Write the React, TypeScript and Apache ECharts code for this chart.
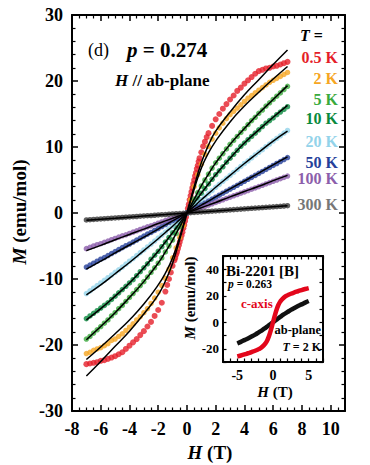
import React, { useEffect, useRef } from 'react';
import * as echarts from 'echarts';

// ---------- data ----------
const H_DATA = [-7, -6.75, -6.5, -6.25, -6, -5.75, -5.5, -5.25, -5, -4.75, -4.5, -4.25, -4, -3.75, -3.5, -3.25, -3, -2.75, -2.5, -2.25, -2, -1.75, -1.5, -1.25, -1, -0.75, -0.5, -0.25, 0,
  0.25, 0.5, 0.75, 1, 1.25, 1.5, 1.75, 2, 2.25, 2.5, 2.75, 3, 3.25, 3.5, 3.75, 4, 4.25, 4.5, 4.75, 5, 5.25, 5.5, 5.75, 6, 6.25, 6.5, 6.75, 7];

const M_05K = [-22.9, -22.8, -22.7, -22.6, -22.4, -22.3, -22.1, -21.9, -21.7, -21.4, -21.1, -20.6, -20.1, -19.6, -19.1, -18.5, -17.9, -17.2, -16.5, -15.6, -14.7, -13.6, -11.9, -10.0, -8.0, -6.3, -4.4, -2.3, 0,
  2.6, 5.0, 7.2, 9.2, 10.8, 12.1, 13.2, 14.2, 15.0, 15.8, 16.5, 17.2, 17.8, 18.5, 19.0, 19.6, 20.1, 20.6, 21.1, 21.5, 21.7, 21.9, 22.0, 22.2, 22.3, 22.5, 22.7, 22.9];
const RED_LOW_H = [-1.375, -1.125, -0.875, -0.8125, -0.6875, -0.625, -0.5625, -0.4375, -0.375, -0.3125, -0.1875, -0.125, -0.0625, 0.0625, 0.125, 0.1875, 0.3125, 0.375, 0.4375, 0.5625, 0.625, 0.6875, 0.8125, 0.875, 1.125, 1.375];
const RED_LOW_M = [-10.9, -9.0, -7.2, -6.8, -5.9, -5.4, -4.9, -3.9, -3.4, -2.9, -1.8, -1.2, -0.6, 0.7, 1.3, 2.0, 3.2, 3.8, 4.4, 5.6, 6.1, 6.7, 7.8, 8.3, 10.1, 11.5];

const M_2K = [-21.3, -21.1, -20.8, -20.6, -20.4, -20.1, -19.8, -19.3, -19.1, -18.7, -18.3, -17.8, -17.3, -16.8, -16.2, -15.7, -15.1, -14.5, -13.7, -12.9, -12.0, -11.0, -9.9, -8.5, -6.8, -5.3, -3.7, -1.9, 0,
  2.0, 4.0, 5.8, 7.4, 8.9, 10.1, 11.2, 12.1, 12.9, 13.6, 14.3, 14.9, 15.4, 15.9, 16.4, 16.9, 17.4, 17.8, 18.2, 18.6, 19.0, 19.4, 19.8, 20.1, 20.4, 20.7, 21.0, 21.3];

const M_5K = [-19.1, -18.7, -18.2, -17.7, -17.2, -16.7, -16.2, -15.6, -15.1, -14.5, -14.0, -13.4, -12.8, -12.2, -11.6, -11.0, -10.4, -9.7, -9.0, -8.3, -7.6, -6.8, -5.9, -5.0, -4.1, -3.1, -2.1, -1.0, 0,
  1.0, 2.1, 3.1, 4.1, 5.0, 5.9, 6.8, 7.6, 8.3, 9.0, 9.7, 10.4, 11.0, 11.6, 12.2, 12.8, 13.4, 14.0, 14.5, 15.1, 15.6, 16.2, 16.7, 17.2, 17.7, 18.2, 18.7, 19.2];

const M_10K = [-16.0, -15.6, -15.2, -14.8, -14.4, -14.0, -13.6, -13.1, -12.6, -12.1, -11.6, -11.1, -10.6, -10.1, -9.5, -8.9, -8.3, -7.7, -7.0, -6.4, -5.8, -5.1, -4.4, -3.7, -3.0, -2.25, -1.5, -0.75, 0,
  0.75, 1.5, 2.25, 3.0, 3.7, 4.4, 5.1, 5.8, 6.4, 7.0, 7.7, 8.3, 8.9, 9.5, 10.1, 10.6, 11.1, 11.6, 12.1, 12.6, 13.1, 13.6, 14.0, 14.4, 14.9, 15.3, 15.7, 16.1];

const M_20K = [-12.2, -11.8, -11.4, -11.0, -10.6, -10.2, -9.8, -9.4, -9.0, -8.6, -8.2, -7.75, -7.3, -6.9, -6.45, -6.0, -5.6, -5.15, -4.7, -4.25, -3.8, -3.35, -2.9, -2.4, -1.95, -1.45, -1.0, -0.5, 0,
  0.5, 1.0, 1.5, 2.0, 2.45, 2.95, 3.4, 3.9, 4.35, 4.8, 5.25, 5.7, 6.15, 6.6, 7.05, 7.5, 7.9, 8.35, 8.8, 9.2, 9.6, 10.05, 10.45, 10.9, 11.3, 11.7, 12.1, 12.5];

const M_50K = [-8.2, -7.9, -7.6, -7.3, -7.0, -6.75, -6.45, -6.15, -5.85, -5.55, -5.25, -4.95, -4.7, -4.4, -4.1, -3.8, -3.5, -3.2, -2.95, -2.65, -2.35, -2.05, -1.75, -1.45, -1.15, -0.9, -0.6, -0.3, 0,
  0.3, 0.6, 0.9, 1.2, 1.5, 1.8, 2.1, 2.4, 2.7, 3.0, 3.3, 3.6, 3.9, 4.2, 4.5, 4.8, 5.1, 5.4, 5.7, 6.0, 6.3, 6.6, 6.9, 7.2, 7.5, 7.8, 8.1, 8.4];

const M_100K = [-5.4, -5.2, -5.0, -4.8, -4.65, -4.45, -4.25, -4.05, -3.85, -3.65, -3.45, -3.3, -3.1, -2.9, -2.7, -2.5, -2.3, -2.1, -1.95, -1.75, -1.55, -1.35, -1.15, -0.95, -0.8, -0.6, -0.4, -0.2, 0,
  0.2, 0.4, 0.6, 0.8, 1.0, 1.2, 1.4, 1.6, 1.8, 2.0, 2.2, 2.4, 2.6, 2.8, 3.0, 3.2, 3.4, 3.6, 3.8, 4.0, 4.2, 4.4, 4.6, 4.8, 5.0, 5.2, 5.4, 5.6];

const M_300K = [-1.05, -1.01, -0.98, -0.94, -0.9, -0.86, -0.83, -0.79, -0.75, -0.71, -0.68, -0.64, -0.6, -0.56, -0.53, -0.49, -0.45, -0.41, -0.38, -0.34, -0.3, -0.26, -0.23, -0.19, -0.15, -0.11, -0.08, -0.04, 0,
  0.04, 0.08, 0.12, 0.16, 0.2, 0.24, 0.27, 0.31, 0.35, 0.39, 0.43, 0.47, 0.51, 0.55, 0.59, 0.63, 0.67, 0.71, 0.75, 0.79, 0.82, 0.86, 0.9, 0.94, 0.98, 1.02, 1.06, 1.1];

const H_FIT = [-7, -6, -5, -4, -3, -2, -1.5, -1, -0.5, 0, 0.5, 1, 1.5, 2, 3, 4, 5, 6, 7];
const FIT_05K = [-24.7, -22.5, -20.2, -17.9, -15.3, -12.4, -10.3, -7.6, -4.0, 0, 4.0, 7.6, 10.3, 12.4, 15.3, 17.9, 20.2, 22.5, 24.7];
const FIT_2K = [-22.2, -20.3, -18.3, -16.2, -13.8, -10.9, -9.1, -6.8, -3.6, 0, 3.6, 6.8, 9.1, 10.9, 13.8, 16.2, 18.3, 20.3, 22.2];
const FIT_5K = [-19.2, -17.2, -15.1, -12.8, -10.4, -7.6, -5.9, -4.1, -2.1, 0, 2.1, 4.1, 5.9, 7.6, 10.4, 12.8, 15.1, 17.2, 19.3];
const FIT_10K = [-16.2, -14.5, -12.6, -10.6, -8.3, -5.8, -4.4, -3.0, -1.5, 0, 1.5, 3.0, 4.4, 5.8, 8.3, 10.6, 12.6, 14.5, 16.3];
const FIT_20K = [-12.4, -10.9, -9.2, -7.5, -5.7, -3.9, -2.95, -2.0, -1.0, 0, 1.0, 2.0, 2.95, 3.9, 5.7, 7.5, 9.2, 10.9, 12.4];
const FIT_50K = [-8.5, -7.3, -6.05, -4.85, -3.65, -2.45, -1.8, -1.2, -0.6, 0, 0.6, 1.2, 1.8, 2.45, 3.65, 4.85, 6.05, 7.3, 8.5];
const FIT_100K = [-5.7, -4.9, -4.05, -3.25, -2.45, -1.6, -1.2, -0.8, -0.4, 0, 0.4, 0.8, 1.2, 1.6, 2.45, 3.25, 4.05, 4.9, 5.7];
const FIT_300K = [-1.1, -0.95, -0.8, -0.63, -0.47, -0.31, -0.24, -0.16, -0.08, 0, 0.08, 0.16, 0.24, 0.31, 0.47, 0.63, 0.8, 0.95, 1.1];

const TEMP_LABELS = ['0.5 K', '2 K', '5 K', '10 K', '20 K', '50 K', '100 K', '300 K'];

const INSET_H = [-5, -4.5, -4, -3.5, -3, -2.5, -2, -1.5, -1, -0.75, -0.5, -0.25, 0, 0.25, 0.5, 0.75, 1, 1.5, 2, 2.5, 3, 3.5, 4, 4.5, 5];
const INSET_C_AXIS = [-25.8, -25.1, -24.3, -23.4, -22.5, -21.5, -20.3, -18.5, -15.5, -13, -9.5, -5, 0, 5, 9.5, 13, 15.5, 18.5, 20.3, 21.5, 22.5, 23.4, 24.3, 25.1, 25.8];
const INSET_AB_PLANE = [-16, -14.8, -13.5, -12.2, -10.8, -9.3, -7.6, -5.9, -4.0, -3.0, -2.0, -1.0, 0, 1.0, 2.0, 3.0, 4.0, 5.9, 7.6, 9.3, 10.8, 12.2, 13.5, 14.8, 16];

// ---------- styles ----------
const FONT = '"Liberation Serif", "Times New Roman", serif';
const COLORS = ['#e51e29', '#f6a623', '#3aaa3c', '#0a8a3e', '#93d3ea', '#25409a', '#8c5eab', '#3a3a3a'];
const LABEL_COLORS = ['#e51e29', '#f6a623', '#3aaa3c', '#0a8a3e', '#93d3ea', '#25409a', '#8c5eab', '#777777'];

const zip = (xs: number[], ys: number[]) => xs.map((x, i) => [x, ys[i]]);

function axis(extra: any) {
  return {
    type: 'value',
    axisLine: { show: true, onZero: false, lineStyle: { color: '#000', width: 2 } },
    axisTick: { show: true, inside: true, length: 6, lineStyle: { color: '#000', width: 1.5 } },
    minorTick: { show: true, splitNumber: 4, length: 3.5, lineStyle: { color: '#000', width: 1.2 } },
    splitLine: { show: false },
    minorSplitLine: { show: false },
    ...extra,
  };
}

function txt(x: number, y: number, text: string, size: number, opts: any = {}) {
  const weight = opts.weight || 'bold';
  const color = opts.color || '#000';
  const align = opts.align || 'left';
  return {
    type: 'text',
    x,
    y,
    rotation: opts.rotation || 0,
    z: 100,
    style: {
      text,
      x: 0,
      y: 0,
      fill: color,
      fontSize: size,
      fontWeight: weight,
      fontFamily: FONT,
      align,
      verticalAlign: 'middle',
      textAlign: align,
      textVerticalAlign: 'middle',
      rich: {
        i: { fontSize: size, fontWeight: weight, fontFamily: FONT, fontStyle: 'italic', fill: color, color },
        n: { fontSize: size, fontWeight: weight, fontFamily: FONT, fill: color, color },
      },
    },
  };
}

export default function App() {
  const ref = useRef<HTMLDivElement>(null);
  useEffect(() => {
    if (!ref.current) return;
    const chart = echarts.init(ref.current, null, { renderer: 'svg' });
    const mainLabel = { show: true, fontSize: 18, fontWeight: 'bold', fontFamily: FONT, color: '#000' };
    const insetLabel = { show: true, fontSize: 14, fontWeight: 'bold', fontFamily: FONT, color: '#000' };

    const dataSets = [M_05K, M_2K, M_5K, M_10K, M_20K, M_50K, M_100K, M_300K];
    const fitSets = [FIT_05K, FIT_2K, FIT_5K, FIT_10K, FIT_20K, FIT_50K, FIT_100K, FIT_300K];

    const scatterSeries = dataSets.map((m, i) => ({
      type: 'scatter',
      name: TEMP_LABELS[i],
      xAxisIndex: 0,
      yAxisIndex: 0,
      symbol: 'circle',
      symbolSize: i === 0 ? 6 : 5.5,
      silent: true,
      itemStyle: { color: COLORS[i] },
      z: 2,
      data: i === 0 ? zip(H_DATA, m).concat(zip(RED_LOW_H, RED_LOW_M)) : zip(H_DATA, m),
    }));
    const fitSeries = fitSets.map((m) => ({
      type: 'line',
      xAxisIndex: 0,
      yAxisIndex: 0,
      smooth: true,
      symbol: 'none',
      silent: true,
      lineStyle: { color: '#000', width: 1.5 },
      z: 3,
      data: zip(H_FIT, m),
    }));

    const insetTick = { show: true, inside: true, length: 3.5, lineStyle: { color: '#000', width: 1.2 } };

    const option: any = {
      animation: false,
      grid: [
        { left: 72, top: 15, width: 273, height: 396, show: false },
        { left: 223, top: 256, width: 100, height: 106, show: true, backgroundColor: '#fff', borderWidth: 0, z: 5 },
      ],
      xAxis: [
        axis({
          gridIndex: 0, position: 'bottom', min: -8, max: 11, interval: 2,
          axisLabel: { ...mainLabel, margin: 9, formatter: (v: number) => (v % 2 === 0 && v <= 10 ? String(v) : '') },
        }),
        axis({ gridIndex: 0, position: 'top', min: -8, max: 11, interval: 2, axisLabel: { show: false } }),
        axis({
          gridIndex: 1, position: 'bottom', min: -7, max: 7, interval: 1, z: 6,
          axisTick: insetTick, minorTick: { show: false },
          axisLabel: { ...insetLabel, margin: 6, formatter: (v: number) => (v % 5 === 0 ? String(v) : '') },
        }),
        axis({
          gridIndex: 1, position: 'top', min: -7, max: 7, interval: 1, z: 6,
          axisTick: insetTick, minorTick: { show: false }, axisLabel: { show: false },
        }),
      ],
      yAxis: [
        axis({
          gridIndex: 0, position: 'left', min: -30, max: 30, interval: 10,
          minorTick: { show: true, splitNumber: 5, length: 3.5, lineStyle: { color: '#000', width: 1.2 } },
          axisLabel: { ...mainLabel, margin: 9 },
        }),
        axis({
          gridIndex: 0, position: 'right', min: -30, max: 30, interval: 10,
          minorTick: { show: true, splitNumber: 5, length: 3.5, lineStyle: { color: '#000', width: 1.2 } },
          axisLabel: { show: false },
        }),
        axis({
          gridIndex: 1, position: 'left', min: -30, max: 50, interval: 10, z: 6,
          axisTick: insetTick, minorTick: { show: false },
          axisLabel: { ...insetLabel, fontSize: 13, margin: 4, formatter: (v: number) => (v % 20 === 0 ? String(v) : '') },
        }),
        axis({
          gridIndex: 1, position: 'right', min: -30, max: 50, interval: 10, z: 6,
          axisTick: insetTick, minorTick: { show: false }, axisLabel: { show: false },
        }),
      ],
      series: [
        ...scatterSeries,
        ...fitSeries,
        {
          type: 'line', xAxisIndex: 2, yAxisIndex: 2, smooth: true, symbol: 'none', silent: true, z: 7,
          lineStyle: { color: '#111', width: 4.5 }, data: zip(INSET_H, INSET_AB_PLANE),
        },
        {
          type: 'line', xAxisIndex: 2, yAxisIndex: 2, smooth: true, symbol: 'none', silent: true, z: 8,
          lineStyle: { color: '#e3061b', width: 4.5 }, data: zip(INSET_H, INSET_C_AXIS),
        },
      ],
      graphic: [
        txt(88, 50, '(d)', 18, { weight: 'normal' }),
        txt(127, 50, '{i|p}{n| = 0.274}', 21),
        txt(115, 80, '{i|H}{n| // ab-plane}', 17),
        txt(300, 35, '{i|T}{n| =}', 16),
        ...TEMP_LABELS.map((t, i) => txt(338, [57, 78, 99, 118, 141, 162, 178, 204][i], t, 16, { align: 'right', color: LABEL_COLORS[i] })),
        txt(19, 212, '{i|M}{n| (emu/mol)}', 19, { align: 'center', rotation: Math.PI / 2 }),
        txt(210, 452, '{i|H}{n| (T)}', 19, { align: 'center' }),
        txt(226, 271, 'Bi-2201 [B]', 15),
        txt(228, 284, '{i|p}{n| = 0.263}', 11.5),
        txt(241, 303, 'c-axis', 13, { color: '#e3061b' }),
        txt(321, 330, 'ab-plane', 12.5, { align: 'right' }),
        txt(321, 347, '{i|T}{n| = 2 K}', 12, { align: 'right' }),
        txt(275, 392, '{i|H}{n| (T)}', 15, { align: 'center' }),
        txt(190, 298, '{i|M}{n| (emu/mol)}', 15, { align: 'center', rotation: Math.PI / 2 }),
      ],
    };
    chart.setOption(option);
    return () => chart.dispose();
  }, []);
  return <div ref={ref} style={{ position: 'absolute', left: 0, top: 0, width: 370, height: 465, background: '#fff' }} />;
}
